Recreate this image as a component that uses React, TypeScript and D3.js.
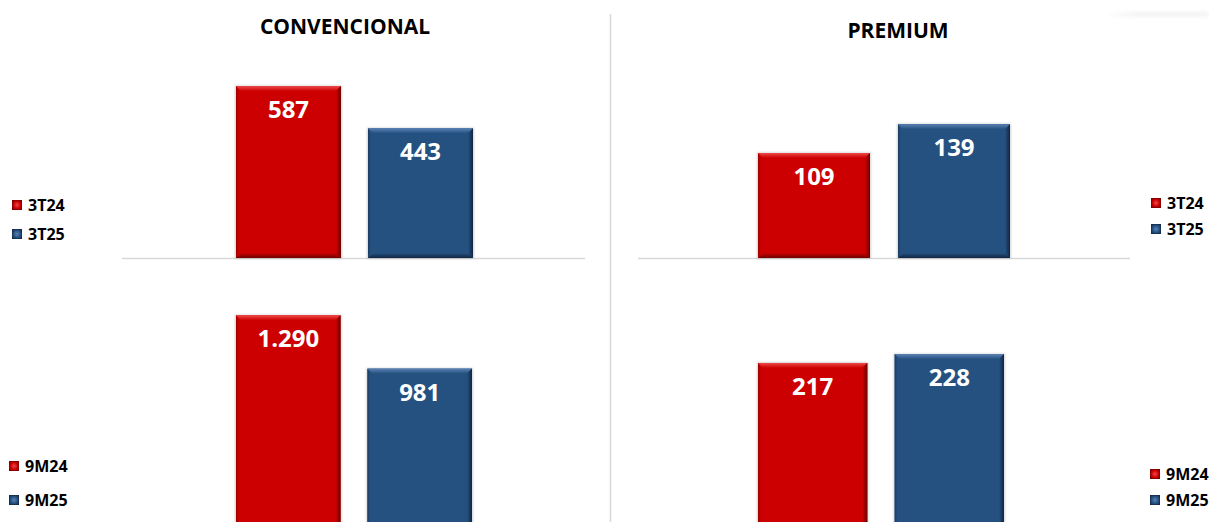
import React from 'react';
import * as d3 from 'd3';

const panelTitles = ['CONVENCIONAL', 'PREMIUM'];
const quarterPeriods = ['3T24', '3T25'];
const ninePeriods = ['9M24', '9M25'];
const convQuarter = [587, 443];
const convNine = [1290, 981];
const premQuarter = [109, 139];
const premNine = [217, 228];

const W = 1209;
const H = 522;
const FONT = "'Open Sans', 'DejaVu Sans', sans-serif";

const locale = d3.formatLocale({ decimal: ',', thousands: '.', grouping: [3], currency: ['', ''] });
const fmt = locale.format(',d');

const palette = [
  { base: '#CC0000', light: '#EE4A4A', dark: '#6E0000', side: '#9E0000' },
  { base: '#255181', light: '#5A82B4', dark: '#102642', side: '#1B3D63' },
];

type Sub = {
  periods: string[];
  values: number[];
  xRange: [number, number];
  pad: number;
  yDomain: [number, number];
  yRange: [number, number];
  axis?: [number, number];
  legend: { x: number; ys: number[] };
};

const subs: Sub[] = [
  { periods: quarterPeriods, values: convQuarter, xRange: [236, 473], pad: 0.2045, yDomain: [0, 700], yRange: [258, 53], axis: [122, 585], legend: { x: 12, ys: [211, 240] } },
  { periods: ninePeriods, values: convNine, xRange: [236, 472], pad: 0.2045, yDomain: [0, 1500], yRange: [538, 279], legend: { x: 9, ys: [472, 506] } },
  { periods: quarterPeriods, values: premQuarter, xRange: [758, 1010], pad: 0.2, yDomain: [0, 200], yRange: [258, 65.4], axis: [638, 1130], legend: { x: 1151, ys: [209, 235] } },
  { periods: ninePeriods, values: premNine, xRange: [758, 1004], pad: 0.2, yDomain: [0, 300], yRange: [538, 296], legend: { x: 1150, ys: [480, 506] } },
];

function Bar({ x, y, w, h, ci }: { x: number; y: number; w: number; h: number; ci: number }) {
  const b = 5;
  const x2 = x + w;
  const y2 = y + h;
  const p = (pts: number[][]) => pts.map((q) => q.join(',')).join(' ');
  return (
    <g>
      <rect x={x - 1} y={y - 0.5} width={w + 2} height={h + 1} fill="#000" opacity={0.18} filter="url(#soft)" />
      <rect x={x} y={y} width={w} height={h} fill={palette[ci].base} />
      <polygon points={p([[x, y], [x2, y], [x2 - b, y + b], [x + b, y + b]])} fill={`url(#top${ci})`} />
      <polygon points={p([[x, y2], [x2, y2], [x2 - b, y2 - b], [x + b, y2 - b]])} fill={`url(#bot${ci})`} />
      <polygon points={p([[x, y], [x + b * 0.6, y + b], [x + b * 0.6, y2 - b], [x, y2]])} fill={`url(#lft${ci})`} />
      <polygon points={p([[x2, y], [x2 - b, y + b], [x2 - b, y2 - b], [x2, y2]])} fill={`url(#rgt${ci})`} />
    </g>
  );
}

function LegendSwatch({ x, y, ci }: { x: number; y: number; ci: number }) {
  const s = 10;
  return (
    <g>
      <rect x={x} y={y} width={s} height={s} fill={`url(#sw${ci})`} />
      <rect x={x + 0.5} y={y + 0.5} width={s - 1} height={s - 1} fill="none" stroke={palette[ci].dark} strokeOpacity={0.5} strokeWidth={1} />
    </g>
  );
}

export default function App() {
  return (
    <svg width={W} height={H} style={{ position: 'absolute', left: 0, top: 0, background: '#fff' }}>
      <defs>
        <filter id="soft" x="-10%" y="-10%" width="120%" height="120%">
          <feGaussianBlur stdDeviation="0.8" />
        </filter>
        <filter id="blur2" x="-20%" y="-200%" width="140%" height="500%">
          <feGaussianBlur stdDeviation="2" />
        </filter>
        {palette.map((c, i) => (
          <React.Fragment key={i}>
            <linearGradient id={`top${i}`} x1="0" y1="0" x2="0" y2="1">
              <stop offset="0" stopColor={c.light} />
              <stop offset="1" stopColor={c.base} />
            </linearGradient>
            <linearGradient id={`bot${i}`} x1="0" y1="1" x2="0" y2="0">
              <stop offset="0" stopColor={c.dark} />
              <stop offset="1" stopColor={c.base} />
            </linearGradient>
            <linearGradient id={`lft${i}`} x1="0" y1="0" x2="1" y2="0">
              <stop offset="0" stopColor={c.side} />
              <stop offset="1" stopColor={c.base} />
            </linearGradient>
            <linearGradient id={`rgt${i}`} x1="1" y1="0" x2="0" y2="0">
              <stop offset="0" stopColor={c.dark} />
              <stop offset="1" stopColor={c.base} />
            </linearGradient>
            <radialGradient id={`sw${i}`} cx="0.5" cy="0.5" r="0.7">
              <stop offset="0" stopColor={c.light} />
              <stop offset="0.5" stopColor={c.base} />
              <stop offset="1" stopColor={c.dark} />
            </radialGradient>
          </React.Fragment>
        ))}
        <linearGradient id="fadeH" x1="0" y1="0" x2="1" y2="0">
          <stop offset="0" stopColor="#000" stopOpacity="0" />
          <stop offset="0.3" stopColor="#000" stopOpacity="0.08" />
          <stop offset="1" stopColor="#000" stopOpacity="0.08" />
        </linearGradient>
      </defs>

      {/* faint shadow top-right */}
      <rect x={1105} y={13} width={104} height={3} fill="url(#fadeH)" filter="url(#blur2)" />

      {/* divider */}
      <line x1={610.5} x2={610.5} y1={14} y2={H} stroke="#d9d9d9" strokeWidth={1.5} />

      {/* titles */}
      <text x={345} y={34} textAnchor="middle" fontFamily={FONT} fontWeight={700} fontSize={21} fill="#000">
        {panelTitles[0]}
      </text>
      <text x={898} y={38} textAnchor="middle" fontFamily={FONT} fontWeight={700} fontSize={21} fill="#000">
        {panelTitles[1]}
      </text>

      {subs.map((s, si) => {
        const x = d3.scaleBand<string>().domain(s.periods).range(s.xRange).paddingInner(s.pad).paddingOuter(0);
        const y = d3.scaleLinear().domain(s.yDomain).range(s.yRange);
        return (
          <g key={si}>
            {s.axis && (
              <line x1={s.axis[0]} x2={s.axis[1]} y1={y(0) + 0.5} y2={y(0) + 0.5} stroke="#d9d9d9" strokeWidth={1.5} />
            )}
            {s.values.map((v, i) => {
              const bx = x(s.periods[i])!;
              const bw = x.bandwidth();
              const top = y(v);
              const h = y(0) - top;
              return (
                <g key={i}>
                  <Bar x={bx} y={top} w={bw} h={h} ci={i} />
                  <text x={bx + bw / 2} y={top + 32} textAnchor="middle" fontFamily={FONT} fontWeight={700} fontSize={24} fill="#fff">
                    {fmt(v)}
                  </text>
                </g>
              );
            })}
            {s.periods.map((p, i) => (
              <g key={p}>
                <LegendSwatch x={s.legend.x} y={s.legend.ys[i] - 11} ci={i} />
                <text x={s.legend.x + 16} y={s.legend.ys[i]} fontFamily={FONT} fontWeight={700} fontSize={16} fill="#000">
                  {p}
                </text>
              </g>
            ))}
          </g>
        );
      })}
    </svg>
  );
}
